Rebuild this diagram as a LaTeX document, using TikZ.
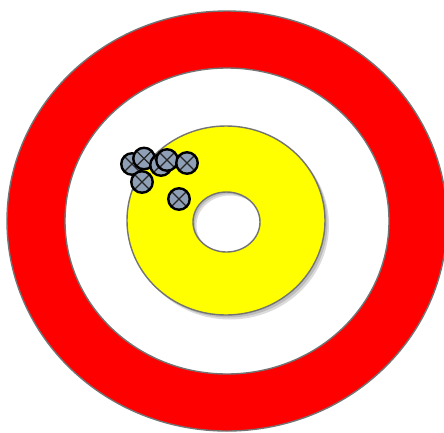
\documentclass[tikz,border=0pt]{standalone}
\definecolor{targetred}{RGB}{255,0,0}
\definecolor{targetyellow}{RGB}{255,255,0}
\definecolor{hitgray}{RGB}{143,160,182}
\definecolor{edgegray}{RGB}{115,115,115}
\begin{document}
\begin{tikzpicture}[x=1pt, y=-1pt,
      ring/.style={draw=edgegray, line width=1.4pt, even odd rule},
      shade ring/.style={fill=black, opacity=0.14, even odd rule},
      hit/.style={circle, draw=black, line width=2.4pt, fill=hitgray, minimum size=21.5pt, inner sep=0pt,
        path picture={\draw[black!85, line width=1.1pt]
          (path picture bounding box.north west) -- (path picture bounding box.south east)
          (path picture bounding box.north east) -- (path picture bounding box.south west);}}
  ]
  \useasboundingbox (0,0) rectangle (444,432);
  \clip (0,0) rectangle (444,432);
  \fill[white] (0,0) rectangle (444,432);

  % Red ring
  \path[ring, fill=targetred] (227,221) ellipse [x radius=220, y radius=210]
    (227,221) ellipse [x radius=162, y radius=153];

  % Shadow of the yellow ring
  \path[shade ring] (228.5,223) ellipse [x radius=99, y radius=94.5]
    (228.5,224) ellipse [x radius=33.5, y radius=30];
  \path[shade ring] (230,225) ellipse [x radius=99, y radius=94.5]
    (230,225.5) ellipse [x radius=33.5, y radius=30];

  % Yellow ring
  \path[ring, fill=targetyellow] (226,220.5) ellipse [x radius=99, y radius=94.5]
    (226.5,222) ellipse [x radius=33.5, y radius=30];

  % Hits
  \node[hit] (h1) at (132,164) {};
  \node[hit] (h2) at (144,158.5) {};
  \node[hit] (h3) at (142,182) {};
  \node[hit] (h4) at (161,165) {};
  \node[hit] (h5) at (167,160) {};
  \node[hit] (h6) at (187,163) {};
  \node[hit] (h7) at (179,199) {};

\end{tikzpicture}
\end{document}
